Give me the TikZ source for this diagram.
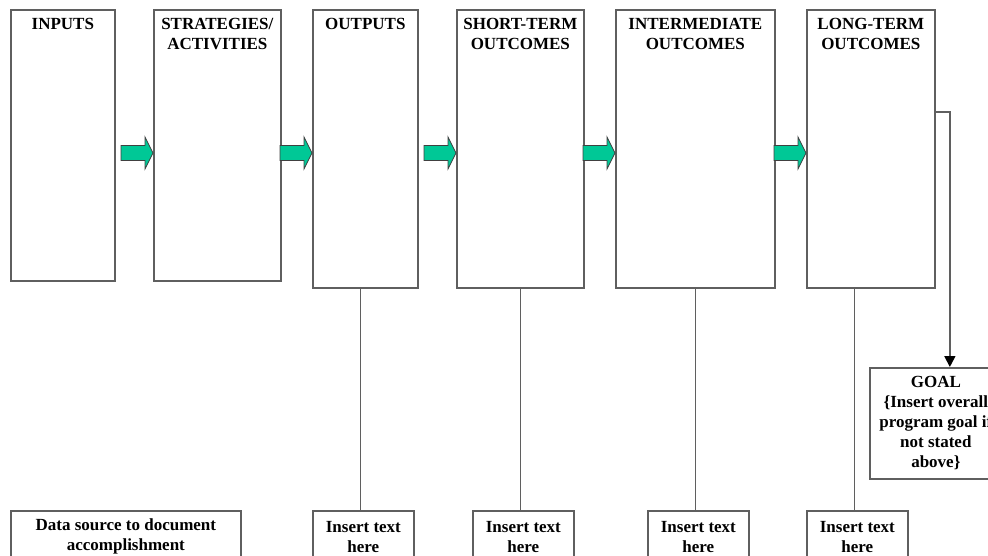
\documentclass[tikz,border=0pt]{standalone}
\usepackage{fontspec}
\setmainfont{Liberation Serif}
\usetikzlibrary{arrows.meta,positioning,calc}
\definecolor{flowgreen}{RGB}{0,200,150}
\definecolor{rulegray}{RGB}{95,95,95}

\begin{document}
\begin{tikzpicture}[x=1pt,y=-1pt,font=\bfseries\fontsize{17}{20}\selectfont,
  topbox/.style={draw=rulegray,line width=1.7pt,anchor=north west,minimum height=#1,inner sep=0pt},
  titletxt/.style={anchor=north,align=center,inner xsep=0pt,inner ysep=9pt},
  notebox/.style={draw=rulegray,line width=1.7pt,anchor=north west,align=center,minimum height=52,inner sep=0pt},
  goalbox/.style={draw=rulegray,line width=1.7pt,anchor=north west,align=center,minimum width=132,minimum height=111,inner sep=0pt},
  flowarrow/.style={fill=flowgreen,draw=black!75,line width=0.8pt,line join=miter},
  link/.style={draw=rulegray,line width=1.7pt}]
\useasboundingbox (0,0) rectangle (988,555);
\clip (0,0) rectangle (988,555);
% stage boxes with their headings
\foreach \n/\x/\w/\h/\t in {inputs/10/104/271/INPUTS,
                            strat/153/127/271/{STRATEGIES/\\ACTIVITIES},
                            outputs/312/105/278/OUTPUTS,
                            short/456/127/278/{SHORT-TERM\\OUTCOMES},
                            inter/615/159/278/{INTERMEDIATE\\OUTCOMES},
                            long/806/128/278/{LONG-TERM\\OUTCOMES}}{
  \node[topbox=\h,minimum width=\w] (\n) at (\x,9) {};
  \node[titletxt] (\n-t) at (\n.north) {\t};}
% block arrows between the stages
\foreach \b in {strat,outputs,short,inter,long}
  \filldraw[flowarrow] ($(\b.north west)+(0,144)$) -- ++(-8,-16) -- ++(0,8.5) -- ++(-24,0)
    -- ++(0,15) -- ++(24,0) -- ++(0,8.5) -- cycle;
% bottom row
\node[notebox,minimum width=230] (source) at (10,510) {Data source to document\\accomplishment};
\foreach \n/\x/\b in {ins1/312/outputs,ins2/472/short,ins3/647/inter,ins4/806/long}{
  \node[notebox,minimum width=101] (\n) at (\x,510) {Insert text\\here};
  \coordinate (\n-up) at ($(\n.north)+(-3,0)$);
  \draw[link] (\n-up) -- (\n-up |- \b.south);}
% goal
\node[goalbox] (goal) at (869,367) {GOAL\\\{Insert overall\\program goal if\\not stated\\above\}};
\coordinate (goal-in) at ($(goal.north)+(14,0)$);
\draw[link,-{Triangle[width=11pt,length=11pt,color=black]}] ($(long.north east)+(0,103)$) -| (goal-in);
\end{tikzpicture}
\end{document}
